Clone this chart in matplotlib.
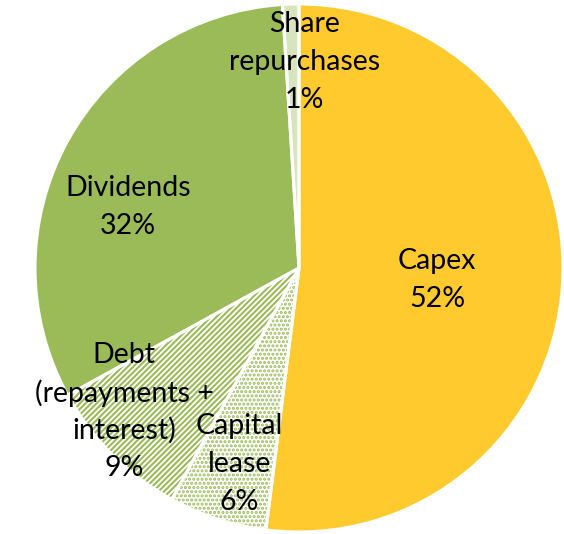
import matplotlib
matplotlib.use('Agg')
import matplotlib.pyplot as plt

# ── Data ──────────────────────────────────────────────────────────────
labels = ['Capex', 'Capital\nlease', 'Debt\n(repayments +\ninterest)',
          'Dividends', 'Share\nrepurchases']
shares = [52, 6, 9, 32, 1]
pct_labels = ['52%', '6%', '9%', '32%', '1%']

GREEN = '#9BBB59'
faces = ['#FFCA2E', 'white', 'white', GREEN, '#D7E4BD']
hatches = [None, '....', '//////', None, None]
hatch_cols = ['#FFCA2E', GREEN, GREEN, GREEN, '#D7E4BD']
# label centres in axes data units (pie radius = 1)
label_pos = [(0.523, -0.045), (-0.225, -0.742), (-0.663, -0.544),
             (-0.648, 0.231), (0.02, 0.78)]
LINE_STEP = 0.143  # vertical distance between label lines (data units)

plt.rcParams['hatch.linewidth'] = 1.5
plt.rcParams['font.family'] = ['Lato', 'DejaVu Sans']

fig = plt.figure(figsize=(5.64, 5.34), dpi=100)
ax = fig.add_axes([35 / 564, 2 / 534, 528 / 564, 528 / 534])

# filled + hatched wedges
wedges, _ = ax.pie(shares, startangle=90, counterclock=False, radius=1,
                   colors=faces, wedgeprops=dict(linewidth=0))
for w, h, hc in zip(wedges, hatches, hatch_cols):
    if h:
        w.set_hatch(h)
        w.set_edgecolor(hc)
        w.set_linewidth(0)

# white separators on top
ax.pie(shares, startangle=90, counterclock=False, radius=1,
       colors=['none'] * len(shares),
       wedgeprops=dict(linewidth=2.2, edgecolor='white', facecolor='none'))

# one text per line so the blocks sit like the original
for (x, y), lab, pct in zip(label_pos, labels, pct_labels):
    lines = lab.split('\n') + [pct]
    top = y + LINE_STEP * (len(lines) - 1) / 2
    for i, line in enumerate(lines):
        ax.text(x, top - i * LINE_STEP, line, ha='center', va='center',
                fontsize=20.5, color='black')

ax.set_xlim(-1, 1)
ax.set_ylim(-1, 1)
ax.set_aspect('equal')
ax.axis('off')

fig.savefig('out.png', dpi=100, facecolor='white')
